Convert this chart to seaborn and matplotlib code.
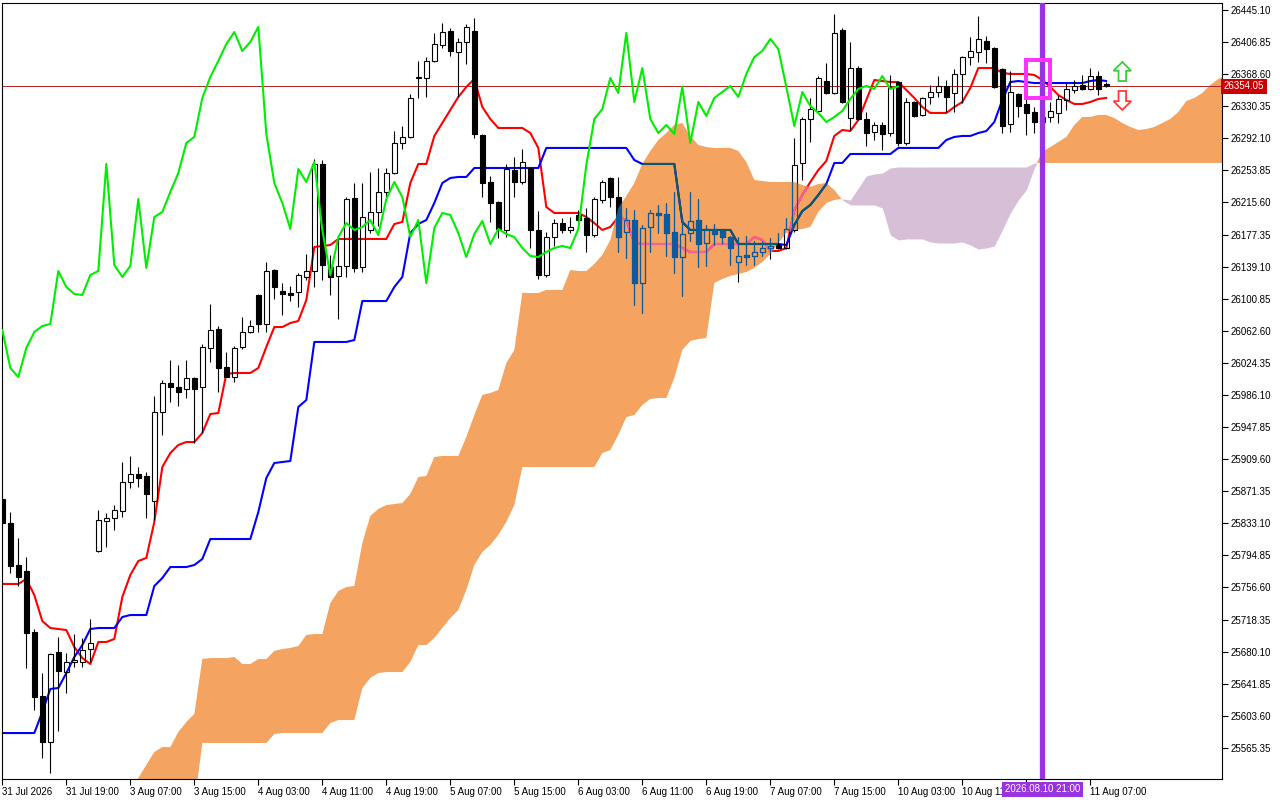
import numpy as np
import pandas as pd
import seaborn as sns
import matplotlib.pyplot as plt
import matplotlib.transforms as mtransforms
from matplotlib.path import Path
from matplotlib.patches import Rectangle, FancyArrow

# Donnees (H1, une valeur par barre)
opens = [25862.1, 25833.5, 25783.4, 25776.3, 25703.5, 25627.2, 25572.4, 25679.7, 25655.8, 25667.8,
         25667.8, 25683.3, 25800.1, 25835.9, 25839.4, 25847.8, 25882.4, 25891.9, 25889.5, 25859.7,
         25965.8, 26000.4, 25995.6, 25993.2, 26006.3, 25995.6, 26042.1, 26064.8, 26019.5, 26007.5,
         26043.3, 26061.2, 26105.3, 26070.7, 26135.1, 26110.1, 26107.7, 26108.9, 26126.8, 26133.9,
         26261.5, 26138.7, 26128.0, 26139.9, 26220.9, 26138.7, 26182.8, 26204.3, 26228.1, 26250.7,
         26286.5, 26293.7, 26364.0, 26364.0, 26384.3, 26403.4, 26420.0, 26395.0, 26406.9, 26420.0,
         26296.0, 26240.0, 26216.2, 26182.8, 26254.3, 26240.0, 26256.7, 26182.8, 26129.1, 26174.4,
         26191.1, 26182.8, 26200.7, 26197.1, 26176.8, 26218.6, 26244.8, 26222.1, 26180.4, 26194.7,
         26119.6, 26186.4, 26203.1, 26201.9, 26180.4, 26150.6, 26179.2, 26194.7, 26167.3, 26184.0,
         26181.6, 26174.4, 26144.6, 26153.0, 26151.8, 26156.6, 26161.3, 26164.9, 26161.3, 26182.8,
         26262.7, 26315.1, 26324.7, 26360.4, 26346.1, 26421.2, 26316.3, 26375.9, 26315.1, 26299.6,
         26308.0, 26298.4, 26359.2, 26286.5, 26335.4, 26319.9, 26341.4, 26347.3, 26354.5, 26346.1,
         26368.8, 26389.0, 26395.0, 26408.1, 26399.8, 26374.7, 26309.2, 26344.9, 26333.0, 26323.5,
         26311.5, 26317.5, 26322.3, 26337.8, 26349.7, 26355.7, 26350.9, 26366.4, 26356.5]
highs = [25866.9, 25846.6, 25815.6, 25792.9, 25707.1, 25654.6, 25678.5, 25697.6, 25678.5, 25701.1,
         25696.4, 25719.0, 25849.0, 25845.4, 25854.9, 25906.2, 25913.4, 25900.2, 25894.3, 25984.9,
         26004.0, 26027.8, 26021.8, 26027.8, 26007.0, 26046.9, 26094.6, 26068.3, 26037.3, 26044.5,
         26079.1, 26075.5, 26106.0, 26144.6, 26136.0, 26119.6, 26116.0, 26131.5, 26154.2, 26267.4,
         26266.2, 26153.0, 26174.4, 26222.1, 26238.8, 26238.8, 26251.9, 26256.7, 26256.7, 26300.8,
         26306.8, 26344.9, 26384.3, 26389.0, 26417.7, 26429.6, 26423.6, 26411.7, 26428.4, 26435.5,
         26297.2, 26247.2, 26217.4, 26261.5, 26269.8, 26279.4, 26257.5, 26205.4, 26180.4, 26195.9,
         26197.1, 26198.3, 26206.6, 26209.0, 26222.1, 26242.4, 26245.5, 26246.0, 26209.0, 26206.6,
         26188.8, 26206.6, 26212.6, 26215.0, 26228.1, 26198.3, 26228.1, 26219.8, 26188.8, 26189.9,
         26184.0, 26175.5, 26174.4, 26175.6, 26169.7, 26169.7, 26173.3, 26179.2, 26197.1, 26292.5,
         26317.5, 26340.2, 26366.4, 26381.9, 26440.3, 26423.6, 26406.9, 26378.3, 26323.5, 26311.5,
         26311.5, 26367.6, 26360.4, 26340.2, 26336.6, 26341.4, 26355.7, 26366.4, 26361.6, 26374.7,
         26390.2, 26412.9, 26437.9, 26414.1, 26401.0, 26375.5, 26372.4, 26346.1, 26341.4, 26329.4,
         26325.9, 26335.4, 26343.7, 26358.0, 26361.6, 26367.6, 26375.9, 26372.4, 26359.2]
lows = [25831.1, 25773.9, 25758.4, 25660.6, 25610.5, 25553.3, 25535.4, 25585.5, 25630.8, 25661.8,
        25661.8, 25667.8, 25798.9, 25804.9, 25825.1, 25840.6, 25875.2, 25876.4, 25839.4, 25837.1,
        25938.4, 25977.7, 25973.0, 25982.5, 25928.9, 25940.8, 26025.4, 25989.7, 26007.5, 26001.6,
        26040.9, 26060.0, 26061.2, 26061.2, 26100.5, 26081.5, 26098.1, 26091.0, 26123.2, 26114.8,
        26123.2, 26105.3, 26076.7, 26126.8, 26132.7, 26132.7, 26179.2, 26187.6, 26222.1, 26249.5,
        26279.4, 26292.5, 26340.2, 26341.4, 26383.1, 26399.8, 26390.2, 26341.4, 26380.7, 26292.5,
        26222.1, 26192.3, 26173.3, 26174.4, 26222.1, 26237.6, 26161.3, 26124.4, 26126.8, 26163.7,
        26179.2, 26179.2, 26192.3, 26156.6, 26174.4, 26215.0, 26210.2, 26156.6, 26149.4, 26093.4,
        26083.8, 26156.6, 26179.2, 26151.8, 26131.5, 26104.1, 26169.7, 26138.7, 26139.9, 26164.9,
        26166.1, 26141.1, 26120.8, 26141.1, 26141.1, 26151.8, 26148.2, 26160.1, 26160.1, 26180.4,
        26242.4, 26287.7, 26323.5, 26344.9, 26344.9, 26334.0, 26302.0, 26313.9, 26282.9, 26290.1,
        26278.2, 26294.9, 26282.9, 26284.1, 26317.5, 26318.7, 26333.0, 26341.4, 26323.5, 26323.5,
        26334.2, 26379.5, 26383.1, 26381.9, 26352.0, 26298.4, 26299.6, 26317.5, 26296.0, 26298.4,
        26304.4, 26311.5, 26310.4, 26325.9, 26346.1, 26349.7, 26349.7, 26343.7, 26353.3]
closes = [25833.5, 25782.2, 25769.1, 25702.3, 25626.0, 25572.4, 25677.3, 25657.0, 25667.8, 25670.1,
          25682.1, 25690.4, 25837.1, 25839.4, 25849.0, 25882.4, 25891.9, 25887.1, 25868.1, 25965.8,
          26000.4, 25995.6, 25989.7, 26006.3, 25993.2, 26043.3, 26063.6, 26018.3, 26007.5, 26042.1,
          26061.2, 26068.3, 26070.7, 26133.9, 26114.8, 26106.5, 26105.3, 26129.1, 26133.9, 26261.5,
          26141.1, 26126.8, 26139.9, 26219.8, 26137.5, 26198.3, 26204.3, 26228.1, 26250.7, 26286.5,
          26293.7, 26340.2, 26365.2, 26384.3, 26404.5, 26418.8, 26396.2, 26406.9, 26424.8, 26297.2,
          26238.8, 26215.0, 26184.0, 26255.5, 26240.0, 26263.9, 26182.8, 26129.1, 26174.4, 26191.1,
          26182.8, 26186.4, 26194.7, 26176.8, 26219.8, 26240.0, 26222.1, 26174.4, 26194.7, 26119.6,
          26185.2, 26203.1, 26200.7, 26179.2, 26150.6, 26178.0, 26193.5, 26166.1, 26184.0, 26178.0,
          26174.4, 26161.3, 26151.8, 26150.6, 26156.6, 26161.3, 26163.7, 26161.3, 26184.0, 26260.3,
          26315.1, 26327.0, 26364.0, 26346.1, 26417.7, 26335.4, 26375.9, 26315.1, 26298.4, 26308.0,
          26297.2, 26353.3, 26286.5, 26335.4, 26318.7, 26340.2, 26347.3, 26354.5, 26341.4, 26368.8,
          26389.0, 26396.2, 26410.5, 26398.6, 26353.3, 26306.8, 26347.3, 26330.6, 26322.3, 26311.5,
          26317.5, 26324.7, 26339.0, 26350.9, 26354.5, 26350.9, 26366.4, 26350.9, 26354.05]

# Tenkan-sen (rouge) et Kijun-sen (bleu), lus barre par barre
tenkan = ([25760.8, 25760.8, 25760.8, 25766.7, 25747.6, 25716.6, 25708.3, 25707.1, 25705.9, 25685.6,
           25672.5, 25665.4, 25691.6, 25691.6, 25695.2, 25745.3, 25771.5, 25788.2, 25791.8, 25834.7,
           25900.2, 25916.9, 25926.5, 25930.0, 25930.0, 25940.8, 25963.4, 25964.6, 26011.1, 26012.3,
           26012.3, 26012.3, 26018.3, 26043.3, 26067.1, 26067.1, 26071.9, 26074.3, 26099.3, 26162.5,
           26163.7, 26164.9] + [26172.1] * 7 + [26189.9,
           26192.3, 26238.8, 26261.5, 26261.5, 26294.9, 26310.4, 26325.9, 26341.4, 26353.3, 26362.8,
           26329.4, 26315.1, 26304.4, 26304.4, 26304.4, 26304.4, 26298.4, 26280.6, 26210.2, 26203.1,
           26203.1, 26203.1, 26203.1, 26198.3, 26191.1, 26182.8, 26186.4, 26198.3, 26194.7, 26167.3]
          + [26166.1] * 5 + [26161.3, 26156.6, 26156.6, 26156.6, 26166.1,
           26166.1, 26166.1, 26166.1, 26166.1, 26174.4, 26170.9, 26157.8, 26157.8, 26161.3, 26206.6,
           26224.5, 26240.0, 26254.3, 26265.1, 26294.9, 26302.0, 26300.8, 26313.9, 26337.8, 26361.6,
           26360.4, 26359.2, 26359.2, 26349.7, 26340.2, 26329.4, 26322.3, 26322.3, 26322.3, 26329.4,
           26335.4, 26352.1, 26375.9, 26375.9, 26375.9, 26370.0, 26368.8, 26368.8, 26368.8, 26367.6,
           26361.6, 26353.3, 26343.7, 26337.8, 26333.0, 26333.0, 26335.4, 26339.0, 26340.2])
kijun = ([25583.1] * 5 + [25608.2, 25635.6, 25636.8, 25654.6, 25673.7,
          25688.0, 25707.1, 25708.3, 25708.3, 25708.3, 25721.4, 25723.8, 25723.8, 25723.8, 25758.4,
          25767.9, 25781.0, 25781.0, 25781.0, 25783.4, 25790.6] + [25814.4] * 6
         + [25846.6, 25887.1, 25905.0, 25906.2, 25907.4, 25971.8, 25980.1] + [26049.3] * 5
         + [26051.6] + [26098.1] * 4 + [26114.8,
          26126.8, 26179.2, 26189.9, 26194.7, 26215.0, 26238.8, 26244.8, 26246.0, 26246.0]
         + [26256.7] * 9 + [26280.6] * 11 + [26266.2] + [26261.5] * 5 + [26192.3]
         + [26182.8] * 6 + [26166.1] * 6 + [26164.9, 26188.8,
          26205.4, 26212.6, 26224.5, 26237.6, 26262.7, 26262.7] + [26273.4] * 6
         + [26280.6] * 6 + [26290.1, 26293.7,
          26294.9, 26294.9, 26298.4, 26300.8, 26311.5, 26337.8, 26359.2, 26360.4, 26359.2]
         + [26358.0] * 7 + [26360.4, 26361.6, 26360.4])

# Nuage (Senkou A / B), deja decale de 26 barres, de la barre 16 a la barre 153
kumo_shift = 26
cloud_first = 16
span_a = [25503.0, 25529.5, 25545.0, 25560.5, 25566.4, 25566.4, 25584.3, 25596.2, 25605.8, 25671.3,
          25672.5, 25672.5, 25672.5, 25673.7, 25665.4, 25665.4, 25671.3, 25671.3, 25680.9, 25683.3,
          25684.5, 25686.8, 25700.0, 25701.1, 25701.1, 25738.1, 25752.4, 25757.2, 25758.4, 25809.6,
          25841.8, 25850.2, 25854.9, 25856.1, 25857.3, 25868.1, 25888.3, 25889.5, 25912.2, 25913.4,
          25913.4, 25913.4, 25936.0, 25962.2, 25986.1, 25988.5, 25992.0, 26024.2, 26039.7, 26107.7,
          26107.7, 26107.7, 26111.3, 26111.3, 26111.3, 26135.1, 26133.9, 26133.9, 26142.3, 26153.0,
          26170.9, 26209.0, 26223.3, 26238.8, 26261.5, 26277.0, 26290.1, 26298.4, 26308.0, 26310.4,
          26294.9, 26284.1, 26281.7, 26280.6, 26280.6, 26280.6, 26277.0, 26263.9, 26242.4, 26241.2,
          26240.0, 26240.0, 26240.0, 26240.0, 26236.4, 26234.1, 26237.6, 26238.8, 26230.5, 26218.6,
          26212.6, 26212.6, 26212.6, 26212.6, 26209.0, 26176.8, 26170.9, 26172.1, 26172.1, 26172.1,
          26168.5, 26167.3, 26167.3, 26167.3, 26168.5, 26164.9, 26160.1, 26161.3, 26163.7, 26182.8,
          26203.1, 26218.6, 26230.5, 26256.7, 26275.8, 26281.7, 26287.7, 26293.7, 26308.0, 26317.5,
          26317.5, 26319.9, 26319.9, 26316.3, 26310.4, 26305.6, 26302.0, 26303.2, 26305.6, 26310.4,
          26315.1, 26323.5, 26336.6, 26340.2, 26346.1, 26355.7, 26362.8, 26367.6]
span_b = ([25497.3] * 9 + [25571.2] * 9 + [25581.9] + [25583.1] * 6 + [25595.0] + [25598.6] * 3
          + [25636.8, 25648.7, 25654.6, 25655.8, 25655.8, 25655.8, 25667.8, 25688.0, 25688.0,
             25696.4, 25708.3, 25720.2, 25729.8, 25753.6, 25783.4, 25798.9, 25807.3, 25819.2,
             25834.7, 25854.9] + [25900.2] * 10
          + [25916.9, 25920.5, 25938.4, 25959.8, 25962.2, 25974.2, 25981.3, 25982.5, 25982.5,
             26006.3, 26039.7, 26050.5, 26052.8, 26054.0, 26119.6, 26124.4, 26128.0, 26130.3,
             26132.7, 26137.5, 26144.6, 26154.2, 26167.3, 26179.2, 26182.8, 26184.0, 26186.4,
             26204.3, 26215.0, 26218.6, 26219.8, 26218.6, 26232.9, 26247.2, 26249.6, 26250.7,
             26256.7] + [26257.9] * 17 + [26262.7] * 25)

# Axes
y_ticks = [25565.35, 25603.60, 25641.85, 25680.10, 25718.35, 25756.60, 25794.85, 25833.10,
           25871.35, 25909.60, 25947.85, 25986.10, 26024.35, 26062.60, 26100.85, 26139.10,
           26177.35, 26215.60, 26253.85, 26292.10, 26330.35, 26368.60, 26406.85, 26445.10]
x_tick_bars = [0, 8, 16, 24, 32, 40, 48, 56, 64, 72, 80, 88, 96, 104, 112, 120, 128, 136]
# l'etiquette de la barre 128 est cachee par l'etiquette violette
x_tick_labels = ["31 Jul 2026", "31 Jul 19:00", "3 Aug 07:00", "3 Aug 15:00", "4 Aug 03:00",
                 "4 Aug 11:00", "4 Aug 19:00", "5 Aug 07:00", "5 Aug 15:00", "6 Aug 03:00",
                 "6 Aug 11:00", "6 Aug 19:00", "7 Aug 07:00", "7 Aug 15:00", "10 Aug 03:00",
                 "10 Aug 11:00", "", "11 Aug 07:00"]

# Annotations
last_price = 26354.05
marker_bar = 130
marker_label = "2026.08.10 21:00"
box_bars = (128.0, 131.0)
box_prices = (26340.2, 26385.1)
arrow_bar = 140.0
arrow_up = (26360.4, 26383.1)
arrow_down = (26348.5, 26325.9)

df = pd.DataFrame({"open": opens, "high": highs, "low": lows, "close": closes,
                   "tenkan": tenkan, "kijun": kijun})
df["bar"] = np.arange(len(df))
chikou = df["close"].shift(-kumo_shift).dropna()
cloud = pd.DataFrame({"a": span_a, "b": span_b})
cloud["bar"] = np.arange(cloud_first, cloud_first + len(cloud))

sns.set_theme(style="white")
plt.rcParams["font.family"] = ["Liberation Sans", "DejaVu Sans"]

fig = plt.figure(figsize=(12.8, 8), dpi=100)
fig.patch.set_facecolor("white")
ax = fig.add_axes([2 / 1280, 21 / 800, 1220 / 1280, 776 / 800])
ax.set_facecolor("white")

# nuage
orange = ax.fill_between(cloud["bar"], cloud["a"], cloud["b"], where=cloud["a"] >= cloud["b"],
                         interpolate=True, color="#f4a460", lw=0, zorder=1)
ax.fill_between(cloud["bar"], cloud["a"], cloud["b"], where=cloud["a"] < cloud["b"],
                interpolate=True, color="#d8bfd8", lw=0, zorder=1)
clip = Path.make_compound_path(*orange.get_paths())

ax.axhline(last_price, color="#b22222", lw=0.7, zorder=1.5)


def draw_lines(c_tenkan, c_kijun, z, clip_path=None):
    sns.lineplot(x=df["bar"], y=df["tenkan"], color=c_tenkan, lw=1.5, ax=ax,
                 estimator=None, sort=False, zorder=z)
    l1 = ax.lines[-1]
    sns.lineplot(x=df["bar"], y=df["kijun"], color=c_kijun, lw=1.5, ax=ax,
                 estimator=None, sort=False, zorder=z)
    l2 = ax.lines[-1]
    if clip_path is not None:
        for ln in (l1, l2):
            ln.set_clip_path(clip_path, ax.transData)


def draw_candles(color, z, clip_path=None):
    o = df["open"].values
    c = df["close"].values
    lo = np.minimum(o, c)
    hi = np.maximum(o, c)
    h = np.maximum(hi - lo, 0.6)
    up = c >= o
    x = df["bar"].values
    arts = []
    arts += list(ax.bar(x[up], h[up], bottom=lo[up], width=0.62, facecolor="none",
                        edgecolor=color, lw=0.8, zorder=z))
    arts += list(ax.bar(x[~up], h[~up], bottom=lo[~up], width=0.62, facecolor=color,
                        edgecolor=color, lw=0.8, zorder=z))
    arts.append(ax.vlines(x, hi, df["high"], colors=color, lw=0.8, zorder=z))
    arts.append(ax.vlines(x, df["low"], lo, colors=color, lw=0.8, zorder=z))
    if clip_path is not None:
        for a in arts:
            a.set_clip_path(clip_path, ax.transData)


draw_lines("#ff0000", "#0000ff", 2)
draw_candles("black", 3)
# couleurs inversees a l'interieur du nuage orange
draw_lines("#f8609f", "#0c5a66", 4, clip)
draw_candles("#0b5b9f", 4.5, clip)

sns.lineplot(x=chikou.index, y=chikou.values, color="#00ee00", lw=1.5, ax=ax,
             estimator=None, sort=False, zorder=5)

ax.axvline(marker_bar, color="#9932e0", lw=3.8, zorder=6)
ax.add_patch(Rectangle((box_bars[0], box_prices[0]), box_bars[1] - box_bars[0],
                       box_prices[1] - box_prices[0], fill=False, edgecolor="#ff33ff",
                       lw=2.9, zorder=7))
for (p0, p1), col in ((arrow_up, "#3ccc3c"), (arrow_down, "#ff3a3a")):
    ax.add_patch(FancyArrow(arrow_bar, p0, 0, p1 - p0, width=0.95, head_width=2.2,
                            head_length=10.5, length_includes_head=True, fill=False,
                            edgecolor=col, lw=1.3, zorder=7))

ax.set_xlim(-0.04, 152.46)
ax.set_ylim(25528.3, 26453.4)
ax.set_xlabel("")
ax.set_ylabel("")

ax.yaxis.tick_right()
ax.set_yticks(y_ticks)
ax.set_yticklabels([f"{v:.2f}" for v in y_ticks])
ax.set_xticks(x_tick_bars)
ax.set_xticklabels(x_tick_labels)
ax.tick_params(axis="both", which="major", length=4, width=0.8, color="black",
               labelsize=7, labelcolor="black", direction="out", pad=2)
ax.tick_params(axis="y", right=True, left=False)
ax.tick_params(axis="x", bottom=True)
for lab in ax.get_xticklabels():
    lab.set_ha("left")
for sp in ax.spines.values():
    sp.set_color("black")
    sp.set_linewidth(0.8)

# etiquettes du prix courant et de la ligne verticale
ty = mtransforms.blended_transform_factory(ax.transAxes, ax.transData)
ax.text(1.0015, last_price, f"{last_price:.2f}", transform=ty, ha="left", va="center",
        color="white", fontsize=7, zorder=10, clip_on=False,
        bbox=dict(facecolor="#cc0000", edgecolor="none", boxstyle="square,pad=0.25"))
tx = mtransforms.blended_transform_factory(ax.transData, ax.transAxes)
ax.text(marker_bar, -0.0135, marker_label, transform=tx, ha="center", va="center",
        color="white", fontsize=7, zorder=10, clip_on=False,
        bbox=dict(facecolor="#9932e0", edgecolor="none", boxstyle="square,pad=0.3"))

fig.savefig("out.png", dpi=100)
